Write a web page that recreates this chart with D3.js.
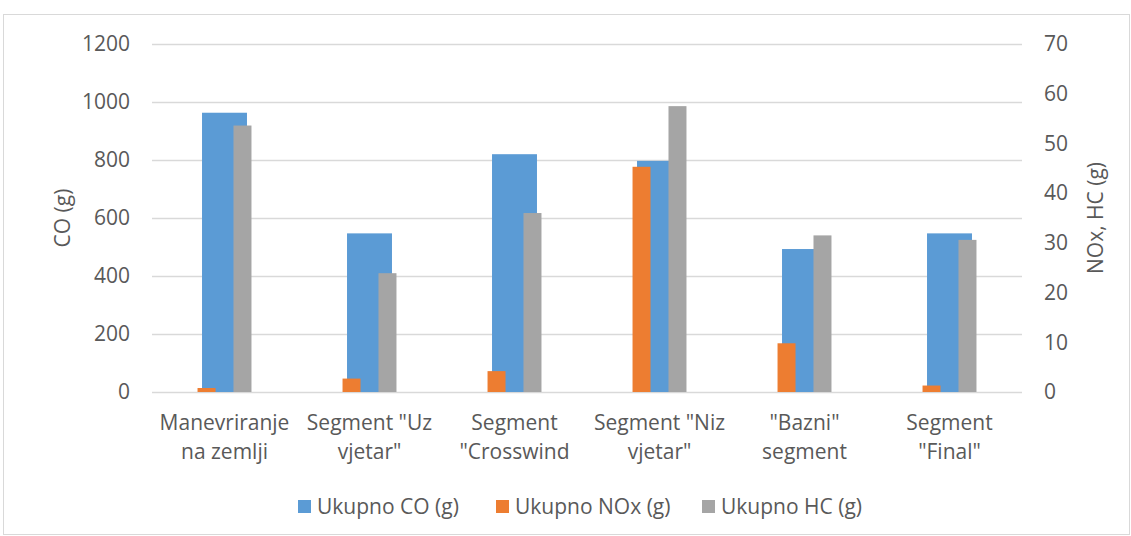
<!DOCTYPE html>
<html>
<head>
<meta charset="utf-8">
<script src="https://cdn.jsdelivr.net/npm/d3@7"></script>
<style>
  html, body { margin: 0; padding: 0; background: #fff; }
  svg { display: block; }
  text { font-family: "Open Sans", "Liberation Sans", sans-serif; fill: #595959; }
</style>
</head>
<body>
<svg id="chart" width="1131" height="536"></svg>
<script>
// ---- data ----
const categories = ["Manevriranje na zemlji", "Segment \"Uz vjetar\"", "Segment \"Crosswind", "Segment \"Niz vjetar\"", "\"Bazni\" segment", "Segment \"Final\""];
const categoryLines = [["Manevriranje", "na zemlji"], ["Segment \"Uz", "vjetar\""], ["Segment", "\"Crosswind"], ["Segment \"Niz", "vjetar\""], ["\"Bazni\"", "segment"], ["Segment", "\"Final\""]];
const coValues = [963, 547, 820, 797, 493, 547];
const noxValues = [0.8, 2.7, 4.2, 45.3, 9.8, 1.3];
const hcValues = [53.6, 23.9, 36.0, 57.5, 31.5, 30.6];
const leftTicks = [0, 200, 400, 600, 800, 1000, 1200];
const rightTicks = [0, 10, 20, 30, 40, 50, 60, 70];
const seriesNames = ["Ukupno CO (g)", "Ukupno NOx (g)", "Ukupno HC (g)"];
const seriesColors = ["#5B9BD5", "#ED7D31", "#A5A5A5"];
const leftTitle = "CO (g)";
const rightTitle = "NOx, HC (g)";

// ---- layout ----
const svg = d3.select("#chart");
const plot = { left: 152, right: 1022, top: 44, bottom: 392 };
const fontSize = 21;

// chart area border
svg.append("rect").attr("x", 3.5).attr("y", 14.5).attr("width", 1126).attr("height", 520)
  .attr("fill", "#fff").attr("stroke", "#D9D9D9").attr("stroke-width", 1);

const x = d3.scaleBand().domain(categories).range([plot.left, plot.right]).paddingInner(0).paddingOuter(0);
const yL = d3.scaleLinear().domain([0, 1200]).range([plot.bottom, plot.top]);
const yR = d3.scaleLinear().domain([0, 70]).range([plot.bottom, plot.top]);

// gridlines
svg.append("g").selectAll("line").data(leftTicks).join("line")
  .attr("x1", plot.left).attr("x2", plot.right)
  .attr("y1", d => Math.round(yL(d)) + 0.5).attr("y2", d => Math.round(yL(d)) + 0.5)
  .attr("stroke", "#D9D9D9").attr("stroke-width", 1.3);

// left axis
const leftAxis = d3.axisLeft(yL).tickValues(leftTicks).tickFormat(d3.format("d")).tickSize(0).tickPadding(22);
const gL = svg.append("g").attr("transform", `translate(${plot.left},0)`).call(leftAxis);
gL.select(".domain").remove();
gL.selectAll("text").style("font-size", fontSize + "px").attr("fill", "#595959")
  .style("font-family", "'Open Sans', sans-serif");

// right axis
const rightAxis = d3.axisRight(yR).tickValues(rightTicks).tickFormat(d3.format("d")).tickSize(0).tickPadding(22);
const gR = svg.append("g").attr("transform", `translate(${plot.right},0)`).call(rightAxis);
gR.select(".domain").remove();
gR.selectAll("text").style("font-size", fontSize + "px").attr("fill", "#595959")
  .style("font-family", "'Open Sans', sans-serif");

// bars
const bw = x.bandwidth();
const coW = bw * 0.31;
const slotW = bw * 0.124;
const bars = svg.append("g");
bars.selectAll("rect.co").data(coValues).join("rect").attr("class", "co")
  .attr("x", (d, i) => x(categories[i]) + bw / 2 - coW / 2)
  .attr("width", coW)
  .attr("y", d => yL(d)).attr("height", d => yL(0) - yL(d))
  .attr("fill", seriesColors[0]);
bars.selectAll("rect.nox").data(noxValues).join("rect").attr("class", "nox")
  .attr("x", (d, i) => x(categories[i]) + bw / 2 - 1.5 * slotW)
  .attr("width", slotW)
  .attr("y", d => yR(d)).attr("height", d => yR(0) - yR(d))
  .attr("fill", seriesColors[1]);
bars.selectAll("rect.hc").data(hcValues).join("rect").attr("class", "hc")
  .attr("x", (d, i) => x(categories[i]) + bw / 2 + 0.5 * slotW)
  .attr("width", slotW)
  .attr("y", d => yR(d)).attr("height", d => yR(0) - yR(d))
  .attr("fill", seriesColors[2]);

// category labels
const xl = svg.append("g");
categories.forEach((c, i) => {
  const t = xl.append("text").attr("text-anchor", "middle")
    .attr("x", x(c) + bw / 2).attr("y", 430).style("font-size", fontSize + "px");
  categoryLines[i].forEach((ln, j) => {
    t.append("tspan").attr("x", x(c) + bw / 2).attr("y", 430 + j * 29).text(ln);
  });
});

// axis titles
svg.append("text").attr("transform", `translate(70,${(plot.top + plot.bottom) / 2}) rotate(-90)`)
  .attr("text-anchor", "middle").style("font-size", fontSize + "px").text(leftTitle);
svg.append("text").attr("transform", `translate(1103,${(plot.top + plot.bottom) / 2}) rotate(-90)`)
  .attr("text-anchor", "middle").style("font-size", fontSize + "px").text(rightTitle);

// legend
const legendX = [298, 496, 702];
const lg = svg.append("g");
seriesNames.forEach((n, i) => {
  lg.append("rect").attr("x", legendX[i]).attr("y", 500).attr("width", 13).attr("height", 13)
    .attr("fill", seriesColors[i]);
  lg.append("text").attr("x", legendX[i] + 19).attr("y", 514).style("font-size", fontSize + "px").text(n);
});
</script>
</body>
</html>
